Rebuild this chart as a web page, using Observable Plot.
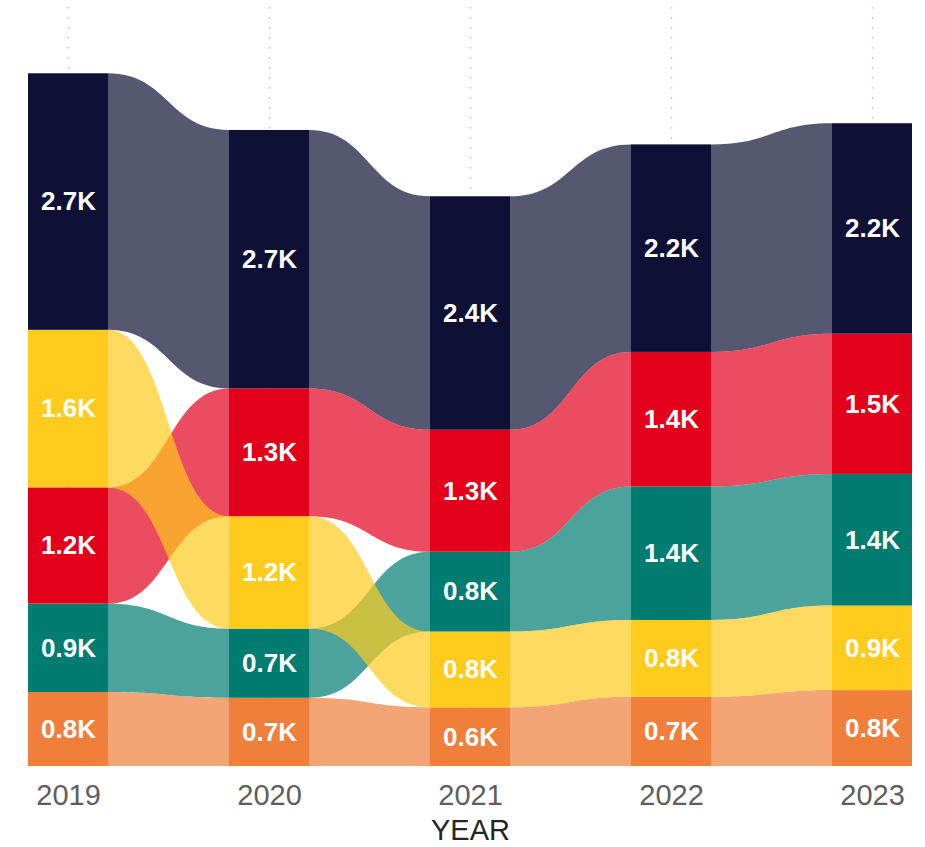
<!DOCTYPE html>
<html>
<head>
<meta charset="utf-8">
<script src="https://cdn.jsdelivr.net/npm/d3@7"></script>
<script src="https://cdn.jsdelivr.net/npm/@observablehq/plot@0.6"></script>
<style>
  html, body { margin: 0; padding: 0; background: #ffffff; }
  #chart svg { display: block; }
</style>
</head>
<body>
<div id="chart"></div>
<script>
// ---- Data (in units) ----
const years = ["2019", "2020", "2021", "2022", "2023"];
const categories = ["Category A", "Category B", "Category C", "Category D", "Category E"];
const colors = ["#0E1035", "#E3001B", "#007C70", "#FFCB1C", "#F07F3C"];
const valuesA = [2670, 2690, 2430, 2160, 2190]; // navy
const valuesB = [1210, 1330, 1270, 1400, 1460]; // red
const valuesC = [920, 720, 830, 1390, 1370];    // teal
const valuesD = [1640, 1170, 790, 800, 880];    // yellow
const valuesE = [770, 710, 610, 720, 790];      // orange
const axisTitle = "YEAR";

const seriesValues = [valuesA, valuesB, valuesC, valuesD, valuesE];

// ---- Build stacked rows (largest on top per year) ----
const rows = [];
years.forEach((year, yi) => {
  const items = categories.map((c, ci) => ({year, category: c, ci, value: seriesValues[ci][yi]}));
  items.sort((a, b) => a.value - b.value);
  let acc = 0;
  for (const it of items) {
    it.y1 = acc;
    acc += it.value;
    it.y2 = acc;
    rows.push(it);
  }
});
const lookup = new Map(rows.map(r => [r.category + "|" + r.year, r]));

const fmt = v => d3.format(".1f")(v / 1000) + "K";

// ---- Ribbon mark (custom render using Plot's scales) ----
const ribbonOrder = ["Category A", "Category B", "Category C", "Category E", "Category D"];
function ribbons(index, scales) {
  const x = scales.x, y = scales.y;
  const bw = x.bandwidth();
  const g = d3.create("svg:g");
  for (const cat of ribbonOrder) {
    const ci = categories.indexOf(cat);
    for (let i = 0; i < years.length - 1; i++) {
      const a = lookup.get(cat + "|" + years[i]);
      const b = lookup.get(cat + "|" + years[i + 1]);
      const x0 = x(years[i]) + bw;
      const x1 = x(years[i + 1]);
      const xm = (x0 + x1) / 2;
      const t0 = y(a.y2), b0 = y(a.y1), t1 = y(b.y2), b1 = y(b.y1);
      const p = d3.path();
      p.moveTo(x0, t0);
      p.bezierCurveTo(xm, t0, xm, t1, x1, t1);
      p.lineTo(x1, b1);
      p.bezierCurveTo(xm, b1, xm, b0, x0, b0);
      p.closePath();
      g.append("path")
        .attr("d", p.toString())
        .attr("fill", colors[ci])
        .attr("fill-opacity", 0.7);
    }
  }
  return g.node();
}

const chart = Plot.plot({
  width: 925,
  height: 847,
  marginLeft: 27,
  marginRight: 12,
  marginTop: 7,
  marginBottom: 81,
  style: {
    fontFamily: "'Liberation Sans', Arial, sans-serif",
    fontSize: "29px",
    color: "#605E5C",
    background: "#ffffff",
    overflow: "visible"
  },
  x: {
    type: "band",
    domain: years,
    paddingInner: 0.6,
    paddingOuter: 0,
    tickSize: 0,
    tickPadding: 18,
    label: null
  },
  y: { domain: [0, 7900], axis: null },
  color: { domain: categories, range: colors },
  marks: [
    Plot.ruleX(years, {
      x: d => d,
      stroke: "#bdbdbd",
      strokeWidth: 1.5,
      strokeDasharray: "1.5,8.5"
    }),
    ribbons,
    Plot.barY(rows, {
      x: "year",
      y1: "y1",
      y2: "y2",
      fill: "category",
      inset: 0
    }),
    Plot.text(rows, {
      x: "year",
      y: d => (d.y1 + d.y2) / 2,
      text: d => fmt(d.value),
      fill: "white",
      fontWeight: "bold",
      fontSize: 26
    }),
    Plot.text([axisTitle], {
      text: d => d,
      frameAnchor: "bottom",
      lineAnchor: "middle",
      dy: 64,
      fill: "#252423",
      fontSize: 29
    })
  ]
});

document.getElementById("chart").appendChild(chart);
</script>
</body>
</html>
